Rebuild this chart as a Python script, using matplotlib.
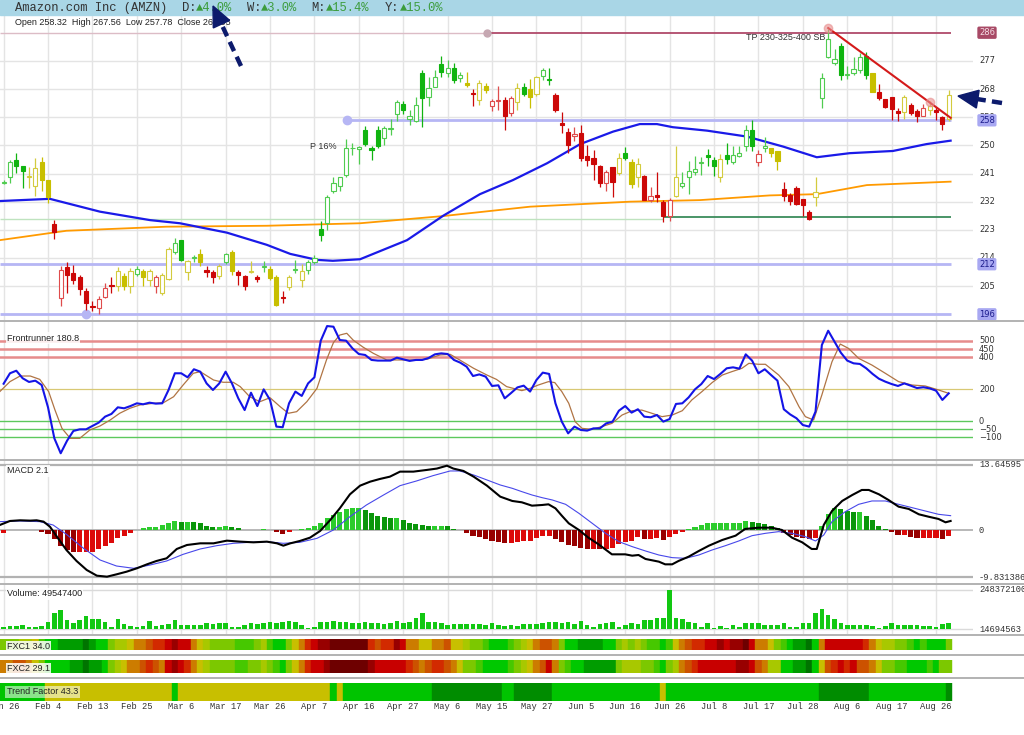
import matplotlib
matplotlib.use("Agg")
import matplotlib.pyplot as plt
import numpy as np
from matplotlib.lines import Line2D
from matplotlib.patches import Polygon, Rectangle

plt.rcParams["font.family"] = ["Liberation Sans", "DejaVu Sans"]

W, H, DPI = 1024, 735, 100
PLOT_RIGHT = 973
XLIM = (-0.57, 152.83)

# ---------------- data ----------------
date_labels = ["Jan 26", "Feb 4", "Feb 13", "Feb 25", "Mar 6", "Mar 17", "Mar 26",
               "Apr 7", "Apr 16", "Apr 27", "May 6", "May 15", "May 27", "Jun 5",
               "Jun 16", "Jun 26", "Jul 8", "Jul 17", "Jul 28", "Aug 6", "Aug 17", "Aug 26"]
tick_every = 7

opens = [238.1, 239.9, 245.4, 243.3, 239.8, 237.0, 244.6, 238.8, 224.9, 201.1,
         211.0, 209.2, 207.8, 203.6, 198.6, 198.0, 201.6, 205.4, 204.9, 208.1,
         205.1, 208.9, 209.9, 207.0, 205.1, 202.8, 207.3, 215.8, 219.7, 209.4,
         213.9, 215.4, 210.2, 209.4, 208.1, 212.7, 216.0, 209.5, 208.1, 209.6,
         207.8, 211.2, 210.4, 207.9, 201.3, 204.6, 210.3, 206.9, 210.2, 212.7,
         223.4, 225.2, 235.3, 237.0, 240.6, 249.0, 248.8, 254.8, 249.1, 255.0,
         252.4, 255.1, 260.1, 263.3, 258.4, 257.7, 273.1, 265.6, 268.7, 275.9,
         273.1, 274.8, 271.5, 270.0, 266.8, 264.6, 269.1, 262.7, 264.1, 264.6,
         260.3, 263.7, 268.6, 268.0, 266.4, 272.3, 271.2, 266.2, 257.1, 254.4,
         253.1, 254.1, 246.6, 245.9, 243.4, 237.9, 243.0, 241.1, 247.7, 244.8,
         239.8, 240.1, 232.6, 234.2, 231.9, 227.4, 233.8, 237.1, 239.9, 241.4,
         244.5, 247.0, 245.4, 239.8, 247.0, 244.6, 246.7, 249.7, 255.0, 244.6,
         249.2, 249.2, 248.1, 236.1, 234.2, 236.3, 232.7, 228.7, 233.6, 265.1,
         278.2, 276.3, 281.8, 272.5, 273.1, 274.2, 278.6, 273.1, 267.2, 264.7,
         265.3, 261.0, 260.7, 263.0, 261.0, 259.5, 261.2, 261.4, 259.1, 258.3]
highs = [239.0, 245.4, 247.5, 243.3, 243.1, 245.9, 246.2, 238.8, 226.1, 211.3,
         212.6, 211.9, 208.7, 204.3, 200.1, 201.7, 205.9, 207.9, 211.1, 209.2,
         210.8, 211.3, 210.4, 210.4, 208.7, 209.2, 217.6, 220.4, 219.8, 213.5,
         215.1, 216.9, 211.3, 210.2, 212.2, 215.7, 216.4, 210.2, 208.7, 212.9,
         208.7, 212.9, 211.3, 208.7, 203.3, 208.7, 213.5, 212.2, 213.4, 215.1,
         225.7, 234.2, 240.0, 240.0, 252.0, 250.7, 249.9, 256.3, 249.9, 256.1,
         256.3, 258.4, 264.4, 264.1, 261.4, 265.4, 274.1, 271.7, 274.1, 278.5,
         277.4, 276.3, 273.6, 273.3, 267.9, 270.8, 270.0, 264.8, 269.1, 265.5,
         265.7, 269.9, 269.9, 271.2, 272.2, 274.7, 274.7, 266.7, 260.8, 255.5,
         255.9, 256.5, 250.2, 248.6, 243.8, 242.2, 243.2, 247.5, 249.4, 245.5,
         245.9, 240.6, 236.8, 241.6, 232.4, 233.2, 249.9, 241.4, 245.1, 246.6,
         246.4, 248.8, 246.2, 247.3, 250.7, 249.8, 249.9, 256.6, 258.0, 248.6,
         252.7, 249.2, 248.1, 238.2, 234.8, 237.1, 232.7, 229.3, 239.9, 273.1,
         287.2, 280.8, 282.7, 275.3, 278.2, 279.5, 279.7, 273.1, 269.7, 264.7,
         265.3, 261.9, 266.0, 263.6, 261.7, 263.3, 264.1, 262.3, 259.5, 267.6]
lows = [237.5, 238.0, 241.3, 236.3, 236.3, 233.8, 235.5, 231.5, 220.0, 198.7,
        202.8, 205.8, 202.2, 197.4, 196.9, 196.2, 201.1, 202.8, 203.6, 203.8,
        202.8, 208.3, 204.9, 204.9, 202.8, 202.2, 207.0, 215.2, 212.9, 206.9,
        212.7, 211.3, 207.9, 206.0, 207.3, 212.2, 208.7, 205.3, 203.8, 209.2,
        206.2, 209.4, 207.0, 198.7, 199.6, 203.8, 209.2, 204.6, 209.0, 212.2,
        219.4, 223.0, 234.8, 235.3, 239.8, 247.0, 244.1, 249.9, 245.4, 249.1,
        250.2, 253.4, 257.7, 259.9, 256.6, 257.4, 256.0, 262.5, 268.5, 272.0,
        271.9, 270.0, 270.4, 268.6, 262.7, 263.0, 266.7, 260.9, 261.2, 255.0,
        259.3, 261.2, 265.9, 262.0, 265.9, 271.0, 269.4, 260.5, 253.9, 247.6,
        251.3, 244.9, 243.3, 239.0, 236.8, 235.3, 233.4, 240.6, 245.4, 236.3,
        236.8, 232.4, 231.9, 231.9, 225.4, 225.7, 233.6, 236.4, 234.6, 240.6,
        240.6, 243.3, 240.3, 238.2, 244.1, 244.1, 246.3, 248.1, 248.1, 243.5,
        247.8, 246.3, 242.2, 232.1, 231.0, 231.0, 227.3, 226.1, 230.7, 262.0,
        277.9, 275.8, 270.8, 271.2, 272.6, 273.1, 271.2, 266.9, 264.6, 261.9,
        258.2, 257.7, 258.4, 259.8, 257.4, 259.3, 259.8, 258.2, 255.0, 257.8]
closes = [238.2, 244.6, 243.3, 241.9, 240.0, 242.7, 238.8, 233.4, 222.4, 210.2,
          208.6, 207.0, 204.1, 199.6, 198.4, 200.9, 204.3, 205.2, 209.7, 205.1,
          210.0, 210.4, 207.9, 209.9, 207.9, 208.7, 216.9, 218.8, 213.5, 212.9,
          214.1, 212.7, 209.4, 207.9, 211.3, 215.2, 209.7, 208.7, 204.9, 209.8,
          207.3, 211.4, 207.6, 199.1, 201.1, 207.9, 210.5, 209.7, 212.7, 214.0,
          221.2, 233.4, 238.1, 239.8, 249.1, 249.2, 249.6, 250.5, 248.4, 249.9,
          255.6, 255.3, 263.7, 261.2, 259.5, 263.0, 265.0, 268.2, 271.7, 273.4,
          274.8, 271.0, 272.6, 269.2, 266.3, 270.0, 267.6, 264.1, 264.6, 259.3,
          265.1, 268.3, 266.4, 265.6, 271.8, 274.2, 270.8, 261.2, 256.5, 250.2,
          253.7, 245.9, 245.4, 244.1, 237.9, 241.4, 238.4, 245.9, 245.9, 237.7,
          244.1, 232.6, 233.8, 233.6, 227.4, 232.4, 239.8, 238.1, 241.9, 242.4,
          244.7, 246.3, 243.5, 245.5, 245.6, 247.0, 247.5, 255.0, 249.9, 247.3,
          249.9, 247.5, 244.9, 233.8, 232.1, 231.3, 230.9, 226.6, 235.2, 271.5,
          283.9, 277.6, 272.6, 272.7, 274.4, 278.2, 272.6, 267.2, 265.1, 262.4,
          261.5, 260.2, 265.3, 260.4, 259.3, 262.0, 262.7, 260.5, 256.9, 266.2]
# g = green, y = yellow, r = red trend colouring of each candle
candle_colors = ("ggggyyyy" "rrrrrrrrrr" "yyygyyryyg" "gygyrrygyr" "ryrgyyrygy"
                 "ggggggggggggggggggggggggg" "yryyrrrryg" "yygg" "rrrrrrrrrr" "ygyy"
                 "rrrrr" "ygggggg" "ygggggrgyy" "rrrrryggggggggy" "rrrryrrryrry")

ma_blue = [(-0.6, 232.2), (7.3, 232.9), (15.2, 228.8), (23.1, 226.1), (27.8, 225.1),
           (35.2, 222.1), (41.5, 218.2), (45.2, 215.3), (49.4, 213.4), (51.9, 213.1),
           (56.2, 213.6), (63.6, 219.7), (69.3, 227.5), (75.1, 234.4), (80.3, 238.9),
           (85.7, 244.3), (90.9, 250.4), (96.1, 254.4), (100.3, 256.8), (103.0, 256.8),
           (105.5, 255.8), (110.9, 254.7), (117.2, 252.8), (122.9, 249.6), (128.2, 246.2),
           (133.4, 247.5), (140.2, 248.2), (145.5, 250.4), (149.3, 251.5)]
ma_orange = [(-0.6, 219.7), (9.9, 222.7), (25.7, 224.0), (41.5, 224.3), (56.2, 225.1),
             (69.3, 227.4), (83.0, 230.4), (98.8, 232.0), (109.8, 232.5), (120.8, 234.0),
             (128.2, 234.4), (136.1, 237.3), (149.3, 238.4)]

price_grid = [277, 268, 259, 250, 241, 232, 223, 214, 205]
price_plain_labels = [277, 268, 259, 250, 241, 232, 223, 214, 205]
level_286 = 286
level_258 = 258
level_212 = 212
level_196 = 196
trend_start = (130.0, 287.5)
trend_end = (149.3, 258.8)

frontrunner = [234, 299, 315, 268, 245, 253, 226, 87, -106, -199,
               -121, -60, -50, -50, -29, -8, 29, 46, 87, 81,
               95, 112, 106, 116, 110, 112, 195, 299, 299, 274,
               324, 309, 236, 195, 236, 309, 236, 143, 70, 178,
               95, 199, 133, -33, -37, 112, 185, 158, 236, 274,
               502, 593, 589, 506, 502, 454, 419, 413, 382, 378,
               378, 378, 396, 386, 376, 382, 382, 394, 417, 423,
               419, 382, 365, 340, 282, 292, 278, 220, 224, 143,
               176, 211, 222, 185, 257, 303, 295, 112, -2, -75,
               -33, -54, -58, -44, -44, -13, -2, 66, 95, 54,
               75, 29, 25, 39, -2, 14, 108, 112, 149, 199,
               232, 282, 263, 295, 330, 336, 328, 417, 378, 299,
               324, 288, 253, 75, 43, 19, -23, -33, 60, 475,
               564, 496, 427, 378, 361, 357, 330, 295, 265, 247,
               232, 220, 236, 222, 207, 212, 205, 191, 133, 174]
fr_signal = [(-0.6, 185), (1.0, 247), (2.6, 282), (4.2, 282), (5.7, 261), (7.1, 185),
             (8.1, 70), (9.2, -44), (10.5, -106), (12.0, -106), (13.6, -54), (15.2, -29),
             (16.8, 8), (18.3, 50), (19.9, 81), (21.5, 102), (23.6, 112), (25.2, 116),
             (26.8, 153), (28.3, 226), (29.9, 299), (31.0, 309), (33.1, 257), (34.6, 243),
             (36.2, 243), (37.3, 216), (38.8, 153), (40.4, 122), (42.0, 147), (43.6, 91),
             (44.9, 50), (46.2, 60), (47.8, 122), (49.4, 205), (50.9, 382), (52.0, 490),
             (53.0, 537), (54.1, 548), (55.1, 506), (56.7, 461), (58.3, 423), (60.4, 382),
             (62.5, 382), (64.6, 382), (66.7, 386), (68.8, 413), (70.4, 417), (71.9, 382),
             (74.1, 330), (76.2, 288), (77.7, 261), (79.3, 216), (81.7, 191), (83.0, 205),
             (84.3, 226), (85.9, 247), (86.9, 241), (88.0, 185), (89.1, 112), (90.1, -2),
             (91.2, -44), (92.8, -50), (94.3, -33), (95.9, -13), (97.5, 39), (99.1, 66),
             (100.6, 70), (102.2, 50), (103.8, 29), (105.4, 39), (107.0, 66), (108.5, 133),
             (110.1, 185), (111.7, 241), (113.3, 288), (114.8, 309), (116.4, 330), (117.5, 361),
             (119.0, 355), (120.1, 355), (122.2, 288), (123.8, 216), (125.4, 91), (126.4, 29),
             (127.7, 8), (129.0, 164), (130.6, 371), (131.9, 481), (133.2, 454), (134.8, 392),
             (136.9, 350), (139.0, 299), (141.1, 247), (143.2, 226), (145.3, 220), (147.4, 195),
             (149.0, 174)]
fr_red_levels = [500, 450, 400]
fr_mid_level = 200
fr_green_levels = [0, -50, -100]

macd_line = [(-0.6, 1.11), (1.0, 1.95), (2.6, 2.09), (4.2, 2.02), (5.2, 2.09), (6.3, 1.81),
             (7.3, 0.76), (8.4, -1.33), (9.9, -4.11), (11.5, -6.41), (13.1, -8.29), (14.7, -9.48),
             (16.3, -9.69), (17.8, -9.2), (19.4, -8.64), (21.0, -7.94), (22.6, -7.11), (24.1, -6.41),
             (25.7, -5.85), (27.3, -3.9), (28.9, -3.07), (31.0, -2.72), (33.1, -2.72), (35.2, -2.16),
             (37.3, -2.37), (39.4, -2.51), (41.5, -2.37), (43.1, -2.72), (44.1, -3.21), (45.2, -2.72),
             (46.7, -2.23), (48.3, -1.54), (49.9, -0.14), (51.5, 2.16), (53.0, 4.59), (54.6, 7.52),
             (56.2, 9.33), (57.8, 10.17), (59.3, 10.72), (60.9, 11.21), (62.5, 12.26), (64.6, 12.26),
             (66.7, 12.61), (68.3, 12.9), (69.9, 13.5), (70.9, 12.9), (72.5, 12.4), (74.1, 11.21),
             (76.2, 9.33), (78.3, 7.03), (80.2, 6.13), (81.7, 5.85), (83.3, 5.15), (84.9, 5.29),
             (85.9, 5.43), (87.0, 4.59), (88.0, 3.06), (89.1, 1.46), (90.7, 0.07), (92.2, -1.54),
             (93.8, -2.93), (95.9, -5.02), (98.0, -5.02), (99.1, -5.3), (100.1, -5.16), (101.2, -5.99),
             (103.3, -6.55), (104.3, -7.11), (105.4, -7.11), (106.4, -6.41), (108.0, -5.51), (109.6, -4.32),
             (111.2, -3.21), (113.3, -2.02), (115.4, -1.12), (116.9, 0.28), (119.0, 0.55), (121.1, 0.55),
             (122.7, 0.07), (124.3, -1.54), (125.9, -2.51), (127.4, -3.9), (128.2, -3.9), (129.3, 1.11),
             (130.6, 4.04), (132.2, 6.13), (133.8, 7.38), (135.3, 8.43), (136.4, 8.43), (138.0, 7.52),
             (139.5, 6.34), (141.1, 4.94), (142.7, 4.46), (144.3, 3.34), (145.8, 2.85), (147.4, 2.37),
             (148.5, 1.67), (149.3, 1.95)]
macd_signal = [(-0.6, 1.81), (2.6, 1.95), (5.7, 1.81), (7.8, 1.11), (9.9, -0.84), (12.6, -3.76),
               (15.2, -6.2), (17.8, -7.46), (20.5, -7.94), (23.1, -7.25), (25.7, -6.41), (28.3, -5.02),
               (31.0, -3.9), (33.6, -3.21), (36.2, -2.72), (38.8, -2.51), (41.5, -2.37), (44.1, -2.72),
               (46.7, -2.51), (49.4, -1.68), (52.0, 0.07), (54.6, 2.85), (57.2, 5.29), (59.9, 7.38),
               (62.5, 9.33), (65.1, 10.31), (67.7, 11.42), (70.4, 12.4), (71.9, 12.4), (74.1, 11.56),
               (76.2, 10.52), (78.3, 9.47), (80.2, 8.77), (81.7, 8.08), (83.3, 7.38), (84.9, 6.82),
               (86.5, 6.34), (88.6, 5.43), (90.7, 3.55), (92.8, 1.46), (94.9, -0.63), (97.0, -2.37),
               (99.1, -3.41), (101.2, -4.32), (103.3, -5.16), (105.4, -5.71), (107.5, -5.85), (109.6, -5.16),
               (111.7, -4.11), (113.8, -3.21), (115.9, -2.23), (118.0, -1.12), (120.1, -0.63), (122.2, -0.28),
               (124.3, -0.63), (126.4, -1.33), (128.0, -2.23), (129.3, -0.98), (130.6, 1.81), (132.7, 3.9),
               (134.8, 5.43), (136.9, 6.13), (139.0, 6.13), (141.1, 5.43), (143.2, 4.74), (145.3, 4.04),
               (147.4, 3.34), (149.3, 3.06)]
macd_hist = [-0.6, 0.1, 0.1, 0.0, 0.1, 0.0, -0.4, -0.8, -1.8, -3.2,
             -4.1, -4.6, -4.6, -4.6, -4.5, -3.9, -3.2, -2.6, -1.7, -1.2,
             -0.6, 0.1, 0.55, 0.77, 0.77, 1.1, 1.46, 1.95, 1.8, 1.8,
             1.67, 1.46, 0.98, 0.77, 0.77, 0.98, 0.63, 0.42, 0.05, 0.14,
             0.05, 0.28, 0.14, -0.42, -0.77, -0.28, 0.0, 0.28, 0.42, 0.9,
             1.46, 2.5, 3.2, 3.9, 4.46, 4.6, 4.6, 4.25, 3.55, 3.06,
             2.85, 2.65, 2.65, 2.16, 1.6, 1.25, 1.1, 0.98, 0.98, 0.98,
             0.9, 0.28, 0.0, -0.63, -1.1, -1.3, -1.8, -2.2, -2.5, -2.7,
             -2.7, -2.5, -2.2, -2.2, -1.7, -1.2, -1.2, -1.8, -2.4, -3.1,
             -3.2, -3.6, -3.9, -3.9, -4.0, -3.9, -3.6, -2.9, -2.5, -2.2,
             -1.5, -1.8, -1.8, -1.7, -2.0, -1.5, -0.84, -0.28, 0.28, 0.77,
             1.1, 1.46, 1.46, 1.6, 1.6, 1.6, 1.6, 1.95, 1.8, 1.46,
             1.25, 0.98, 0.56, -0.63, -0.98, -1.3, -1.7, -1.8, -1.7, 0.98,
             3.34, 4.6, 4.46, 4.04, 3.76, 3.76, 3.06, 2.16, 0.98, 0.28,
             -0.42, -0.98, -0.98, -1.3, -1.7, -1.7, -1.7, -1.7, -1.8, -1.2]
macd_max = 13.64595
macd_min = -9.831386

volume_m = [30.3, 34.3, 36.3, 38.2, 30.3, 30.3, 36.3, 58.1, 109.6, 129.4,
            70.0, 50.1, 70.0, 93.7, 75.9, 75.9, 60.0, 30.3, 75.9, 44.2,
            34.3, 30.3, 34.3, 64.0, 34.3, 40.2, 46.2, 70.0, 40.2, 40.2,
            40.2, 40.2, 50.1, 44.2, 50.1, 54.1, 30.3, 30.3, 40.2, 50.1,
            46.2, 50.1, 56.1, 50.1, 60.0, 66.0, 56.1, 40.2, 20.0, 26.4,
            60.0, 60.0, 66.0, 58.1, 56.1, 54.1, 54.1, 60.0, 50.1, 50.1,
            46.2, 50.1, 66.0, 54.1, 58.1, 79.9, 109.6, 60.0, 56.1, 50.1,
            40.2, 44.2, 44.2, 46.2, 46.2, 46.2, 40.2, 50.1, 40.2, 36.3,
            40.2, 36.3, 44.2, 44.2, 46.2, 50.1, 60.0, 60.0, 50.1, 56.1,
            44.2, 62.0, 40.2, 30.3, 46.2, 50.1, 56.1, 26.4, 40.2, 50.1,
            44.2, 70.0, 70.0, 79.9, 83.8, 248.4, 83.8, 73.9, 60.0, 54.1,
            30.3, 50.1, 20.4, 34.3, 20.4, 40.2, 30.3, 54.1, 54.1, 50.1,
            40.2, 40.2, 40.2, 54.1, 30.3, 26.4, 54.1, 54.1, 109.6, 135.4,
            99.7, 73.9, 54.1, 40.2, 40.2, 40.2, 40.2, 34.3, 24.4, 36.3,
            50.1, 40.2, 40.2, 40.2, 40.2, 36.3, 34.3, 30.3, 44.2, 52.0]
volume_hi = 248372100
volume_lo = 14694563

# heat strip levels: 0 = deepest red ... 6 = yellow ... 12 = deepest green
fxc1 = [8, 8, 8, 7, 7, 6, 9, 10, 10, 11,
        11, 11, 11, 12, 11, 10, 10, 8, 7, 7,
        6, 5, 5, 4, 3, 3, 2, 1, 2, 2,
        5, 6, 7, 8, 8, 8, 8, 9, 9, 9,
        8, 7, 9, 10, 10, 8, 6, 5, 3, 2,
        1, 1, 0, 0, 0, 0, 0, 0, 3, 4,
        3, 3, 1, 2, 5, 5, 6, 6, 5, 5,
        4, 6, 6, 7, 8, 8, 9, 10, 10, 10,
        9, 8, 7, 6, 5, 4, 4, 5, 8, 10,
        10, 11, 11, 11, 11, 10, 10, 8, 7, 8,
        7, 8, 9, 9, 10, 9, 6, 5, 4, 3,
        3, 2, 2, 1, 2, 1, 1, 0, 2, 5,
        5, 6, 8, 9, 10, 11, 11, 12, 10, 5,
        2, 2, 2, 2, 2, 2, 3, 5, 6, 7,
        7, 8, 8, 9, 10, 9, 10, 10, 10, 8]
fxc2 = [5, 5, 4, 4, 5, 6, 8, 10, 10, 10,
        10, 11, 11, 12, 11, 11, 10, 8, 7, 6,
        5, 5, 4, 3, 4, 5, 2, 1, 2, 3,
        5, 6, 7, 8, 8, 8, 8, 9, 9, 8,
        8, 7, 8, 9, 10, 8, 6, 5, 3, 2,
        2, 1, 0, 0, 0, 0, 0, 0, 1, 2,
        2, 2, 2, 2, 3, 4, 5, 4, 3, 3,
        4, 5, 6, 8, 8, 9, 10, 10, 10, 10,
        9, 8, 7, 6, 5, 4, 2, 5, 8, 9,
        10, 10, 11, 11, 11, 11, 11, 8, 7, 7,
        7, 8, 8, 9, 10, 8, 7, 5, 4, 3,
        2, 2, 2, 2, 2, 2, 1, 1, 2, 4,
        5, 7, 7, 10, 10, 11, 11, 12, 10, 6,
        4, 3, 2, 3, 2, 4, 4, 5, 6, 8,
        8, 9, 9, 10, 10, 10, 9, 10, 8, 8]
trend_runs = [("g", 7), ("y", 20), ("g", 1), ("y", 24), ("g", 1), ("y", 1), ("g", 14),
              ("d", 11), ("g", 2), ("d", 6), ("g", 17), ("y", 1), ("g", 24), ("d", 8),
              ("g", 12), ("d", 1)]

# ---------------- styles ----------------
MONO = ["Liberation Mono", "DejaVu Sans Mono"]
VERD = ["DejaVu Sans"]
GRID = "#e4e4e4"
SEP = "#b2b2b2"
NAVY = "#0c1a6c"
heat_palette = ["#6e0000", "#980000", "#c80000", "#d22a00", "#cc5200", "#cc7c00", "#c8bf00",
                "#a8c800", "#7cc800", "#46c800", "#00c800", "#009c00", "#007400"]
trend_palette = {"g": "#00c400", "y": "#c8bf00", "d": "#008c00"}
candle_palette = {"g": ("#10b410", "#50cc50"), "y": ("#c8bf00", "#d3cb3e"),
                  "r": ("#cc0808", "#df4c4c")}

n = len(closes)
x = np.arange(n)
tick_pos = np.arange(len(date_labels)) * tick_every

fig = plt.figure(figsize=(W / DPI, H / DPI), dpi=DPI)


def panel(top, bottom):
    ax = fig.add_axes([0, 1 - bottom / H, PLOT_RIGHT / W, (bottom - top) / H])
    ax.set_xlim(*XLIM)
    ax.axis("off")
    return ax


def vgrid(ax):
    for t in tick_pos:
        ax.axvline(t, color=GRID, lw=1, zorder=0)


def right_label(ax, y, text, family=VERD, size=6, color="#333333", box=None):
    ax.text(1 + 6 / PLOT_RIGHT, y, text, transform=ax.get_yaxis_transform(), ha="left",
            va="center", fontsize=size, family=family, color=color, clip_on=False, bbox=box)


def corner_label(ax, fy, text):
    ax.text(7 / PLOT_RIGHT, fy, text, transform=ax.transAxes, ha="left", va="center",
            fontsize=6.5, color="#222222", zorder=10,
            bbox=dict(boxstyle="square,pad=0.15", fc=(1, 1, 1, 0.85), ec="none"))


def sep(y):
    fig.add_artist(Line2D([0, 1], [1 - y / H] * 2, transform=fig.transFigure, color=SEP, lw=1.4))


# ---------------- price panel ----------------
ax = panel(16, 320)
ax.set_ylim(194.18, 291.34)
vgrid(ax)
for p in price_grid:
    ax.axhline(p, color=GRID, lw=1, zorder=0)

end = trend_end[0]
ax.hlines(level_286, XLIM[0], 76.2, color="#dcbcc6", lw=1, zorder=1)
ax.hlines(level_286, 76.2, end, color="#b04a6a", lw=1.3, zorder=1)
ax.plot([76.2], [level_286], "o", ms=5, color="#c6a8b2", zorder=2)
ax.hlines(level_258, 54.1, end, color="#b6b6f4", lw=2, zorder=1)
ax.plot([54.1], [level_258], "o", ms=6, color="#b6b6f4", zorder=2)
ax.hlines([level_212, level_196], XLIM[0], end, color="#b6b6f4", lw=2, zorder=1)
ax.plot([13.0], [level_196], "o", ms=6, color="#b6b6f4", zorder=2)
ax.hlines(226.6, XLIM[0], 104, color="#bfe3bf", lw=1, zorder=1)
ax.hlines(227.2, 104, end, color="#3c8c5c", lw=1.3, zorder=1)

ax.plot(*zip(*ma_orange), color="#ff9a00", lw=1.3, zorder=2)
ax.plot(*zip(*ma_blue), color="#1a1ae8", lw=1.6, zorder=2)

for i in range(n):
    o, h, l, c = opens[i], highs[i], lows[i], closes[i]
    fill, line = candle_palette[candle_colors[i]]
    hollow = c >= o
    edge = line if hollow else fill
    ax.vlines(i, l, h, color=edge, lw=0.9, zorder=3)
    lo, hi = min(o, c), max(o, c)
    ax.add_patch(Rectangle((i - 0.33, lo), 0.66, max(hi - lo, 0.3),
                           facecolor="white" if hollow else fill, edgecolor=edge, lw=0.8, zorder=4))

ax.plot([trend_start[0], trend_end[0]], [trend_start[1], trend_end[1]], color="#d41a1a", lw=1.5, zorder=5)
ax.plot([trend_start[0], 146.1], [trend_start[1], 263.7], "o", ms=6, color="#e89090", alpha=0.6, zorder=5)

ax.text(52.5, 249.5, "P 16%", ha="right", va="center", fontsize=6.5, color="#333333")
ax.text(129.6, 284.6, "TP 230-325-400 SB", ha="right", va="center", fontsize=6.5, color="#333333")
ax.text(15 / PLOT_RIGHT, 1 - 6.5 / 304, "Open 258.32  High 267.56  Low 257.78  Close 266.95",
        transform=ax.transAxes, ha="left", va="center", fontsize=6.5, color="#222222")

for p in price_plain_labels:
    right_label(ax, p, str(p))
right_label(ax, level_286, str(level_286), color="#f4dce4",
            box=dict(boxstyle="round,pad=0.2", fc="#a84a66", ec="none"))
for p in (level_258, level_212, level_196):
    right_label(ax, p, str(p), color="#1c1c8c",
                box=dict(boxstyle="round,pad=0.2", fc="#a8a8f2", ec="none"))

# ---------------- frontrunner ----------------
fr = panel(321, 459)
fr.set_ylim(-234.7, 624.5)
vgrid(fr)
for lvl in fr_red_levels:
    fr.axhline(lvl, color="#e68c8c", lw=1.8, zorder=1)
fr.axhline(fr_mid_level, color="#d8c874", lw=0.9, zorder=1)
for lvl in fr_green_levels:
    fr.axhline(lvl, color="#5cc85c", lw=1, zorder=1)
fr.plot(*zip(*fr_signal), color="#b07444", lw=0.9, zorder=2)
fr.plot(x, frontrunner, color="#1414e6", lw=1.5, zorder=3)
for lvl in fr_red_levels + [fr_mid_level] + fr_green_levels:
    right_label(fr, lvl, str(lvl).replace("-", "\u2212"))
corner_label(fr, 0.875, "Frontrunner 180.8")

# ---------------- MACD ----------------
md = panel(460, 583)
md.set_ylim(-11.01, 14.69)
vgrid(md)
md.axhline(macd_max, color=SEP, lw=1.6, zorder=1)
md.axhline(macd_min, color=SEP, lw=1.6, zorder=1)
md.axhline(0, color=SEP, lw=1.3, zorder=1)
hist = np.array(macd_hist)
prev = np.r_[hist[0], hist[:-1]]
hist_colors = []
for h, p in zip(hist, prev):
    if h >= 0:
        hist_colors.append("#2ccc2c" if h >= p else "#0a960a")
    else:
        hist_colors.append("#dc0a0a" if h >= p else "#980000")
md.bar(x, hist, width=0.8, color=hist_colors, zorder=2)
md.plot(*zip(*macd_signal), color="#4848ea", lw=0.8, zorder=3)
md.plot(*zip(*macd_line), color="black", lw=1.5, zorder=4)
right_label(md, macd_max, f"{macd_max:.5f}", family=MONO, size=6.3)
right_label(md, 0, "0", family=MONO, size=6.3)
right_label(md, macd_min, f"{macd_min:.6f}", family=MONO, size=6.3)
corner_label(md, 0.913, "MACD 2.1")

# ---------------- volume ----------------
vo = panel(584, 634)
vo.set_ylim(-13.26e6, 284.0e6)
vgrid(vo)
vo.axhline(volume_hi, color="#dadada", lw=1, zorder=1)
vo.axhline(volume_lo, color="#dadada", lw=1, zorder=1)
vol = np.array(volume_m) * 1e6
vo.bar(x, vol - volume_lo, bottom=volume_lo, width=0.72, color="#12c812", zorder=2)
right_label(vo, volume_hi, str(volume_hi), family=MONO, size=6.3)
right_label(vo, volume_lo, str(volume_lo), family=MONO, size=6.3)
corner_label(vo, 0.8, "Volume: 49547400")

# ---------------- heat strips ----------------
for top, bottom, codes, label, fy in ((639, 650, fxc1, "FXC1 34.0", 0.3),
                                     (660, 673, fxc2, "FXC2 29.1", 0.32)):
    s = panel(top, bottom)
    s.set_ylim(0, 1)
    cols = [heat_palette[c] for c in codes]
    s.bar(x, 1, width=1.0, color=cols, edgecolor=cols, lw=0.3)
    corner_label(s, fy, label)

trend = []
for code, count in trend_runs:
    trend += [code] * count
tf = panel(683, 701)
tf.set_ylim(0, 1)
cols = [trend_palette[c] for c in trend]
tf.bar(x, 1, width=1.0, color=cols, edgecolor=cols, lw=0.3)
tf.text(7 / PLOT_RIGHT, 0.5, "Trend Factor 43.3", transform=tf.transAxes, ha="left", va="center",
        fontsize=6.5, color="#222222",
        bbox=dict(boxstyle="square,pad=0.2", fc=(1, 1, 1, 0.55), ec="none"))
for t, lab in zip(tick_pos, date_labels):
    tf.text(t, -5.5 / 18, lab, transform=tf.get_xaxis_transform(), ha="center", va="center",
            fontsize=6.3, family=MONO, color="#333333", clip_on=False)

for y in (320.5, 459.5, 583.5, 634.5, 655, 678.3):
    sep(y)

# ---------------- header + arrows (pixel overlay) ----------------
ov = fig.add_axes([0, 0, 1, 1])
ov.set_xlim(0, W)
ov.set_ylim(H, 0)
ov.axis("off")
ov.add_patch(Rectangle((0, 0), W, 14.5, color="#a9d6e6", zorder=0))
cw = 7.25
ov.text(15, 7.5, "Amazon.com Inc (AMZN)", fontsize=8.7, family=MONO, color="#333333", va="center")
for x0, key, val in ((181.7, "D:", "\u25b24.0%"), (246.7, "W:", "\u25b23.0%"),
                     (311.7, "M:", "\u25b215.4%"), (385.0, "Y:", "\u25b215.0%")):
    ov.text(x0, 7.5, key, fontsize=8.7, family=MONO, color="#333333", va="center")
    ov.text(x0 + 2 * cw, 7.5, val, fontsize=8.7, family=MONO, color="#3c9c3c", va="center")


def dashed_arrow(tail, tip, head_len=20, head_w=9):
    tail = np.array(tail, float)
    tip = np.array(tip, float)
    d = (tip - tail) / np.hypot(*(tip - tail))
    base = tip - head_len * d
    perp = np.array([-d[1], d[0]])
    ov.plot([tail[0], base[0]], [tail[1], base[1]], color=NAVY, lw=3.2,
            dashes=(2.3, 1.4), solid_capstyle="butt", dash_capstyle="butt", zorder=5)
    ov.add_patch(Polygon([tip, base + head_w * perp, base - head_w * perp], closed=True,
                         color=NAVY, zorder=5))


dashed_arrow((241, 66), (213, 6))
dashed_arrow((1002, 103), (958, 96))

fig.savefig("out.png", dpi=DPI)
